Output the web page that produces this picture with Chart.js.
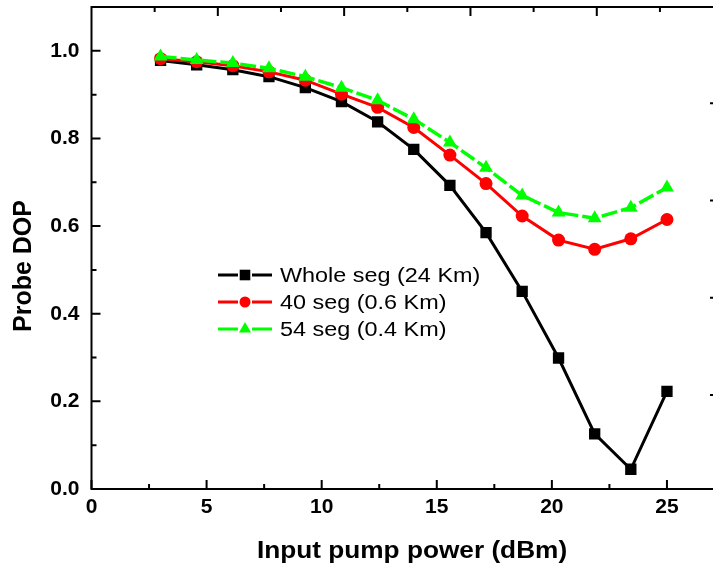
<!DOCTYPE html>
<html>
<head>
<meta charset="utf-8">
<script src="https://cdn.jsdelivr.net/npm/chart.js@4.4.1/dist/chart.umd.min.js"></script>
<style>
  html, body { margin: 0; padding: 0; background: #fff; }
  #wrap { width: 713px; height: 566px; }
</style>
</head>
<body>
<div id="wrap"><canvas id="dopChart" width="713" height="566"></canvas></div>
<script>
// data
const pumpPower = [3, 4.57, 6.14, 7.71, 9.29, 10.86, 12.43, 14, 15.57, 17.14, 18.71, 20.29, 21.86, 23.43, 25];
const wholeSeg = [0.978, 0.968, 0.957, 0.941, 0.916, 0.884, 0.838, 0.775, 0.693, 0.585, 0.451, 0.299, 0.126, 0.045, 0.223];
const seg40 = [0.982, 0.975, 0.966, 0.952, 0.933, 0.901, 0.871, 0.825, 0.762, 0.697, 0.623, 0.568, 0.547, 0.571, 0.615];
const seg54 = [0.987, 0.979, 0.972, 0.960, 0.941, 0.916, 0.887, 0.844, 0.791, 0.733, 0.670, 0.631, 0.618, 0.642, 0.688];
const seriesLabels = ["Whole seg (24 Km)", "40 seg (0.6 Km)", "54 seg (0.4 Km)"];

// axis ticks
const xTicks = [0, 5, 10, 15, 20, 25];
const xMinorTicks = [2.5, 7.5, 12.5, 17.5, 22.5];
const yTicks = [0, 0.2, 0.4, 0.6, 0.8, 1.0];
const yMinorTicks = [0.1, 0.3, 0.5, 0.7, 0.9];
const topTicks = [1, 2, 3, 4];
const topMinorTicks = [0.5, 1.5, 2.5, 3.5, 4.5];
const rightTicks = [1, 2, 3, 4];

const FONT = '"Liberation Sans", Arial, sans-serif';

function toPoints(ys) {
  return pumpPower.map((x, i) => ({ x: x, y: ys[i] }));
}

// no extra label padding, the plot box is fixed
function noPad(scale) {
  scale.paddingTop = 0;
  scale.paddingBottom = 0;
  scale.paddingLeft = 0;
  scale.paddingRight = 0;
}

const frameAndTicks = {
  id: "frameAndTicks",
  afterDatasetsDraw(chart) {
    const ctx = chart.ctx;
    const a = chart.chartArea;
    const sx = chart.scales.x, sy = chart.scales.y;
    const sx2 = chart.scales.x2, sy2 = chart.scales.y2;
    ctx.save();
    ctx.strokeStyle = "#000";
    ctx.lineWidth = 2;
    ctx.beginPath();
    ctx.moveTo(a.right + 2, a.top);
    ctx.lineTo(a.left, a.top);
    ctx.lineTo(a.left, a.bottom);
    ctx.lineTo(a.right + 2, a.bottom);
    ctx.stroke();

    ctx.beginPath();
    xTicks.forEach((v) => { const p = sx.getPixelForValue(v); ctx.moveTo(p, a.bottom); ctx.lineTo(p, a.bottom - 9); });
    xMinorTicks.forEach((v) => { const p = sx.getPixelForValue(v); ctx.moveTo(p, a.bottom); ctx.lineTo(p, a.bottom - 5); });
    yTicks.forEach((v) => { const p = sy.getPixelForValue(v); ctx.moveTo(a.left, p); ctx.lineTo(a.left + 9, p); });
    yMinorTicks.forEach((v) => { const p = sy.getPixelForValue(v); ctx.moveTo(a.left, p); ctx.lineTo(a.left + 5, p); });
    topTicks.forEach((v) => { const p = sx2.getPixelForValue(v); ctx.moveTo(p, a.top); ctx.lineTo(p, a.top + 9); });
    topMinorTicks.forEach((v) => { const p = sx2.getPixelForValue(v); ctx.moveTo(p, a.top); ctx.lineTo(p, a.top + 5); });
    rightTicks.forEach((v) => { const p = sy2.getPixelForValue(v); ctx.moveTo(a.right, p); ctx.lineTo(a.right - 3, p); });
    ctx.stroke();
    ctx.restore();
  },
  afterDraw(chart) {
    const ctx = chart.ctx;
    ctx.save();
    ctx.fillStyle = "#000";

    // axis titles
    ctx.font = "bold 23px " + FONT;
    ctx.textAlign = "center";
    ctx.textBaseline = "alphabetic";
    ctx.save();
    ctx.translate(412, 558);
    ctx.scale(1.14, 1);
    ctx.fillText("Input pump power (dBm)", 0, 0);
    ctx.restore();

    ctx.save();
    ctx.font = "bold 25px " + FONT;
    ctx.translate(24, 266);
    ctx.rotate(-Math.PI / 2);
    ctx.textBaseline = "middle";
    ctx.fillText("Probe DOP", 0, 0);
    ctx.restore();

    // legend inside the plot
    const legendY = [275, 302, 329];
    const legendRadius = [7.5, 5.5, 7];
    chart.data.datasets.forEach((ds, i) => {
      const y = legendY[i];
      ctx.save();
      ctx.strokeStyle = ds.borderColor;
      ctx.lineWidth = 3;
      ctx.beginPath();
      ctx.moveTo(218, y);
      ctx.lineTo(238, y);
      ctx.moveTo(252, y);
      ctx.lineTo(272, y);
      ctx.stroke();
      ctx.fillStyle = ds.pointBackgroundColor;
      ctx.strokeStyle = ds.pointBorderColor;
      Chart.helpers.drawPoint(ctx, { pointStyle: ds.pointStyle, radius: legendRadius[i], rotation: 0, borderWidth: 0 }, 245, y);
      ctx.restore();

      ctx.save();
      ctx.font = "20px " + FONT;
      ctx.textAlign = "left";
      ctx.textBaseline = "middle";
      ctx.translate(280, y + 1);
      ctx.scale(1.17, 1);
      ctx.fillText(seriesLabels[i], 0, 0);
      ctx.restore();
    });
    ctx.restore();
  }
};

const ctx = document.getElementById("dopChart").getContext("2d");

new Chart(ctx, {
  type: "line",
  data: {
    datasets: [
      {
        label: seriesLabels[0],
        data: toPoints(wholeSeg),
        borderColor: "#000000",
        backgroundColor: "#000000",
        pointBackgroundColor: "#000000",
        pointBorderColor: "#000000",
        pointStyle: "rect",
        pointRadius: 8,
        pointBorderWidth: 0,
        borderWidth: 3,
        order: 2,
      },
      {
        label: seriesLabels[1],
        data: toPoints(seg40),
        borderColor: "#ff0000",
        backgroundColor: "#ff0000",
        pointBackgroundColor: "#ff0000",
        pointBorderColor: "#ff0000",
        pointStyle: "circle",
        pointRadius: 6.5,
        pointBorderWidth: 0,
        borderWidth: 3,
        order: 1,
      },
      {
        label: seriesLabels[2],
        data: toPoints(seg54),
        borderColor: "#00ff00",
        backgroundColor: "#00ff00",
        pointBackgroundColor: "#00ff00",
        pointBorderColor: "#00ff00",
        pointStyle: "triangle",
        pointRadius: 8,
        pointBorderWidth: 0,
        borderWidth: 3.5,
        borderDash: [16, 4],
        order: 0,
      },
    ],
  },
  options: {
    responsive: false,
    animation: false,
    layout: { autoPadding: false, padding: { top: 7, right: 0, bottom: 0, left: 0 } },
    plugins: {
      legend: { display: false },
      tooltip: { enabled: false },
    },
    scales: {
      x: {
        type: "linear",
        position: "bottom",
        min: 0,
        max: 27,
        grid: { display: false, drawTicks: false },
        border: { display: false },
        afterBuildTicks: (scale) => { scale.ticks = xTicks.map((v) => ({ value: v })); },
        afterFit: (scale) => { scale.height = 77; noPad(scale); },
        ticks: {
          color: "#000",
          padding: 6,
          maxRotation: 0,
          font: { family: FONT, size: 21, weight: "bold" },
          callback: (v) => String(v),
        },
      },
      y: {
        type: "linear",
        position: "left",
        min: 0,
        max: 1.1,
        grid: { display: false, drawTicks: false },
        border: { display: false },
        afterBuildTicks: (scale) => { scale.ticks = yTicks.map((v) => ({ value: v })); },
        afterFit: (scale) => { scale.width = 91.5; noPad(scale); },
        ticks: {
          color: "#000",
          padding: 12,
          font: { family: FONT, size: 21, weight: "bold" },
          callback: (v) => Number(v).toFixed(1),
        },
      },
      x2: {
        type: "linear",
        position: "top",
        min: 0,
        max: 4.92,
        grid: { display: false, drawTicks: false },
        border: { display: false },
        ticks: { display: false },
        afterFit: (scale) => { scale.height = 0; noPad(scale); },
      },
      y2: {
        type: "linear",
        position: "right",
        min: 0.034,
        max: 4.99,
        grid: { display: false, drawTicks: false },
        border: { display: false },
        ticks: { display: false },
        afterFit: (scale) => { scale.width = 0; noPad(scale); },
      },
    },
  },
  plugins: [frameAndTicks],
});
</script>
</body>
</html>
